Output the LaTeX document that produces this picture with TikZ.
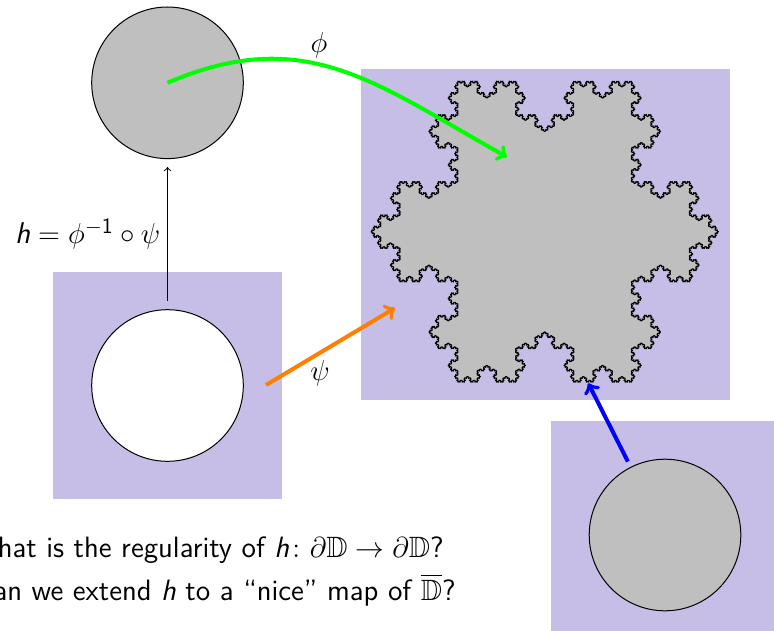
\documentclass[tikz,border=0pt]{standalone}
\usepackage{amsmath,amssymb}
\usetikzlibrary{decorations.fractals}
\definecolor{lav}{RGB}{198,190,230}
\newcommand{\hsf}{\text{\sffamily\itshape h}}
\begin{document}
\begin{tikzpicture}[x=0.5pt,y=-0.5pt,
  disk/.style={circle, draw=black, line width=0.5pt, minimum size=75.8pt, inner sep=0pt},
  bg/.style={fill=lav},
  map/.style={->, line width=2pt},
  txt/.style={font=\sffamily\fontsize{14.7}{17}\selectfont},
  lbl/.style={font=\fontsize{15}{18}\selectfont}]
\useasboundingbox (0,0) rectangle (774,630);
\clip (0,0) rectangle (774,630);
% backgrounds
\fill[bg] (53.3,271.7) rectangle (281.7,499.3);
\fill[bg] (361,69) rectangle (730,400);
\fill[bg] (551,421) rectangle (779,649);
% snowflake
\coordinate (sA) at (371,231.7);
\coordinate (sB) at (631.55,81.27);
\coordinate (sC) at (631.55,382.13);
\filldraw[fill=lightgray, draw=black, line width=0.6pt, line join=round, decoration=Koch snowflake]
  decorate{decorate{decorate{decorate{decorate{(sA) -- (sB) -- (sC) -- cycle}}}}};
% disks
\node[disk, fill=lightgray] (dtop) at (167.5,82.8) {};
\node[disk, fill=white] (dleft) at (167.5,385.5) {};
\node[disk, fill=lightgray] (dright) at (665,535) {};
% coordinates for arrow ends
\coordinate (gEnd) at (507,157);
\coordinate (oStart) at (266,385);
\coordinate (oEnd) at (395,308);
\coordinate (bEnd) at (588.3,383.3);
% maps
\draw[->, line width=0.5pt, shorten <=4pt, shorten >=4pt] (dleft) -- node[midway, left, lbl] (hl) {$\hsf = \phi^{-\mathsf{1}}\circ\psi$} (dtop);
\draw[map, green] (dtop.center) .. controls (306,23.4) and (376,84) .. (gEnd);
\draw[map, orange] (oStart) -- (oEnd);
\draw[map, blue, shorten <=3pt] (dright) -- (bEnd);
\node[lbl] (phil) at (319,45) {$\phi$};
\node[lbl] (psil) at (320,373) {$\psi$};
% questions
\node[txt, anchor=base east, inner sep=0pt] (q1) at (444,557) {What is the regularity of $\hsf\colon \partial\mathbb{D}\to\partial\mathbb{D}$?};
\node[txt, anchor=base east, inner sep=0pt] (q2) at (456,600) {Can we extend $\hsf$ to a ``nice'' map of $\overline{\mathbb{D}}$?};
\end{tikzpicture}
\end{document}
